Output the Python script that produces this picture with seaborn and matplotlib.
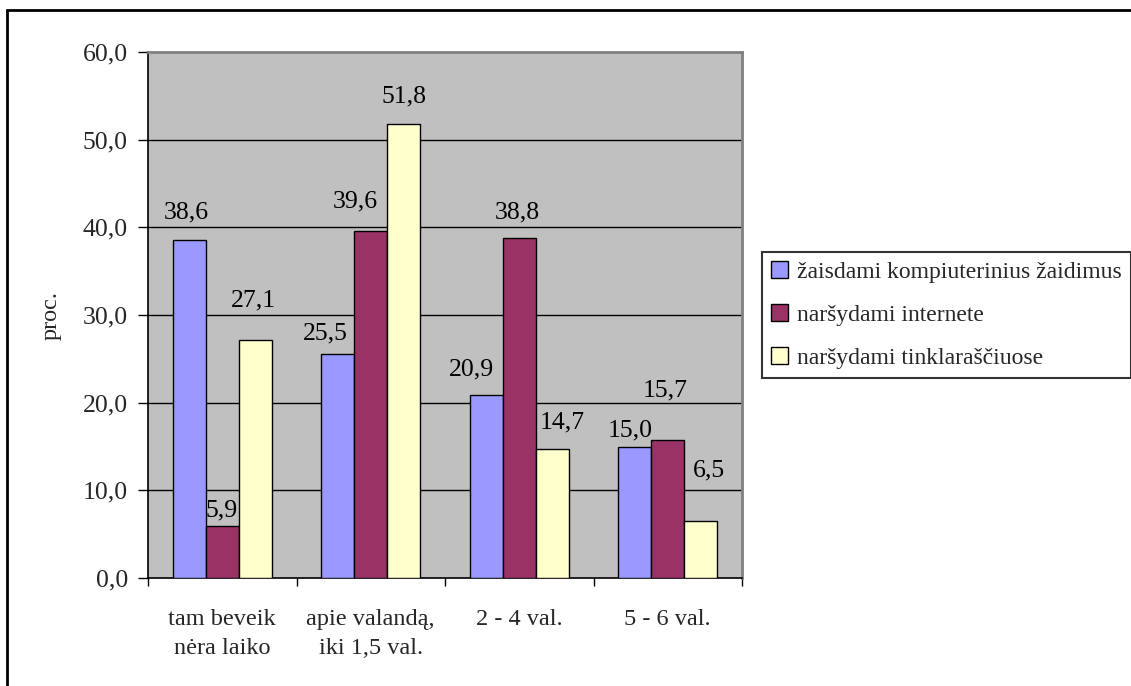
import numpy as np
import pandas as pd
import seaborn as sns
import matplotlib.pyplot as plt
from matplotlib.patches import Rectangle
from matplotlib.ticker import FuncFormatter

categories = ["tam beveik\nnėra laiko", "apie valandą,\niki 1,5 val.", "2 - 4 val.", "5 - 6 val."]
series_names = ["žaisdami kompiuterinius žaidimus", "naršydami internete", "naršydami tinklaraščiuose"]
games_vals = [38.6, 25.5, 20.9, 15.0]
internet_vals = [5.9, 39.6, 38.8, 15.7]
blogs_vals = [27.1, 51.8, 14.7, 6.5]
colors = ["#9999FF", "#993366", "#FFFFCC"]

# label nudges (pixels: right, up) from the top centre of each bar, as placed in the original
label_offsets = [
    [(-2.5, 27.6), (-12, 21), (-14.5, 25), (-5, 16.5)],
    [(-1, 16), (-15.5, 29), (-2, 25), (-3, 50)],
    [(-2, 40), (0, 27), (10, 27), (8, 51)],
]

rows = []
for name, vals in zip(series_names, [games_vals, internet_vals, blogs_vals]):
    for cat, v in zip(categories, vals):
        rows.append({"cat": cat, "series": name, "value": v})
df = pd.DataFrame(rows)

sns.set_style("white")
plt.rcParams["font.family"] = ["Liberation Serif", "DejaVu Serif"]
fs_num = 18.5
fs_txt = 17.5
fs_leg = 17


def fmt(v):
    return f"{v:.1f}".replace(".", ",")


fig = plt.figure(figsize=(11.31, 6.86), dpi=100)
ax = fig.add_axes([148 / 1131, 1 - 578 / 686, (742 - 148) / 1131, (578 - 52) / 686])
ax.set_facecolor("#C0C0C0")

# outer chart border
fig.patches.append(Rectangle((7 / 1131, -0.05), 1.2, 1 - 10 / 686 + 0.05, transform=fig.transFigure,
                             fill=False, edgecolor="black", linewidth=2, zorder=0))

sns.barplot(data=df, x="cat", y="value", hue="series", order=categories, hue_order=series_names,
            palette=colors, saturation=1, width=3 / 4.5, edgecolor="black", linewidth=1,
            ax=ax, zorder=3, legend=True)

px2pt = 72 / 100
for s_idx, c in enumerate(ax.containers):
    for c_idx, (bar, v) in enumerate(zip(c.patches, c.datavalues)):
        dx, dy = label_offsets[s_idx][c_idx]
        ax.annotate(fmt(v), xy=(bar.get_x() + bar.get_width() / 2, bar.get_height()),
                    xytext=(dx * px2pt, dy * px2pt), textcoords="offset points",
                    ha="center", va="center", fontsize=fs_num, color="black", zorder=5)

ax.set_ylim(0, 60)
ax.set_xlim(-0.5, 3.5)
ax.set_yticks(np.arange(0, 61, 10))
ax.yaxis.set_major_formatter(FuncFormatter(lambda v, p: fmt(v)))
for y in range(10, 60, 10):
    ax.axhline(y, color="black", linewidth=1, zorder=1)

ax.set_xticks(np.arange(-0.5, 4, 1))
ax.set_xticklabels([])
ax.set_xticks(np.arange(4), minor=True)
ax.set_xticklabels(categories, minor=True, fontsize=fs_txt, linespacing=1.5)
ax.tick_params(axis="x", which="minor", length=0, pad=22)
ax.tick_params(axis="x", which="major", direction="out", length=6, width=1, color="black", bottom=True)
ax.tick_params(axis="y", direction="out", length=7, width=1, color="black", left=True,
               labelsize=fs_num, pad=7.5)
ax.set_xlabel("")
ax.set_ylabel("proc.", fontsize=fs_txt)
ax.yaxis.set_label_coords(-0.145, 0.5)

for s in ["left", "bottom"]:
    ax.spines[s].set_color("black")
    ax.spines[s].set_linewidth(1.2)
for s in ["top", "right"]:
    ax.spines[s].set_color("#808080")
    ax.spines[s].set_linewidth(2)
    ax.spines[s].set_visible(True)

handles, labels = ax.get_legend_handles_labels()
ax.legend_.remove()
leg = fig.legend(handles, labels, loc="upper left", bbox_to_anchor=(762 / 1131, 1 - 252 / 686),
                 frameon=True, fancybox=False, edgecolor="black", fontsize=fs_leg,
                 handlelength=0.72, handleheight=0.72, handletextpad=0.35, labelspacing=0.9,
                 borderpad=0.4, borderaxespad=0)
leg.get_frame().set_linewidth(1.5)

fig.savefig("out.png", dpi=100, facecolor="white")
